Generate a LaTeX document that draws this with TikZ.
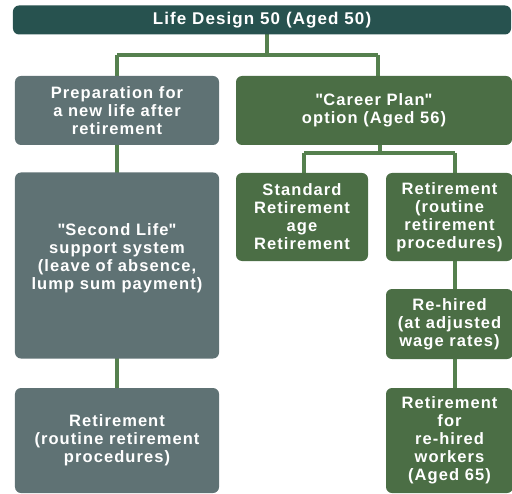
\documentclass[tikz,border=0pt]{standalone}
\usepackage{fontspec}
\setmainfont{Liberation Sans}[LetterSpace=6.5]
\usepackage{tikz}
\usetikzlibrary{positioning}

\definecolor{topcol}{HTML}{27524F}
\definecolor{graycol}{HTML}{5F7274}
\definecolor{greencol}{HTML}{4B6E45}
\definecolor{linkcol}{HTML}{55804E}

\begin{document}
\begin{tikzpicture}[x=1bp,y=-1bp,
	box/.style={rounded corners=6bp,text=white,align=center,inner sep=0pt,
		font=\bfseries\fontsize{16.5bp}{18bp}\selectfont},
	topbar/.style={box,fill=topcol,minimum width=498bp,minimum height=29bp,
		font=\bfseries\fontsize{17bp}{19bp}\selectfont},
	graybox/.style={box,fill=graycol,minimum width=204bp},
	greenbox/.style={box,fill=greencol,minimum width=127bp},
	txt/.style={text=white,align=center,inner sep=0pt,
		font=\bfseries\fontsize{16.5bp}{18bp}\selectfont}]
	\useasboundingbox (0,0) rectangle (512,494);
	\clip (0,0) rectangle (512,494);
	\tikzset{link/.style={draw=linkcol,line width=3.2bp}}
	
	% connectors first, boxes on top
	\coordinate (j1) at (267,55);
	\coordinate (j2) at (380,153);
	\path[link] (267,20) -- (j1);
	\path[link] (117,55) -- (378,55);
	\path[link] (117,55) -- (117,480);
	\path[link] (378,55) -- (378,110);
	\path[link] (380,110) -- (j2);
	\path[link] (304,153) -- (455,153);
	\path[link] (304,153) -- (304,200);
	\path[link] (455,153) -- (455,460);
	
	\node[topbar]                                      (top)    at (262,20)    {Life Design 50 (Aged 50)};
	\node[graybox,minimum height=69bp]                 (prep)   at (117,110.5) {Preparation for\\a new life after\\retirement};
	\node[greenbox,minimum width=276bp,minimum height=69bp] (career) at (374,110.5) {\textquotedbl Career Plan\textquotedbl\\option (Aged 56)};
	\node[graybox,minimum height=186bp]                (second) at (117,265.5) {};
	\node[txt]                                         (secondtxt) at (117,258) {\textquotedbl Second Life\textquotedbl\\support system\\(leave of absence,\\lump sum payment)};
	\node[greenbox,minimum width=132bp,minimum height=88bp] (std) at (302,217) {Standard\\Retirement\\age\\Retirement};
	\node[greenbox,minimum height=88bp]                (ret)    at (449.5,217) {Retirement\\(routine\\retirement\\procedures)};
	\node[greenbox,minimum height=70bp]                (rehire) at (449.5,324) {Re-hired\\(at adjusted\\wage rates)};
	\node[greenbox,minimum height=105bp]               (retold) at (449.5,440.5) {Retirement\\for\\re-hired\\workers\\(Aged 65)};
	\node[graybox,minimum height=105bp]                (retleft) at (117,440.5) {Retirement\\(routine retirement\\procedures)};
	
\end{tikzpicture}
\end{document}
